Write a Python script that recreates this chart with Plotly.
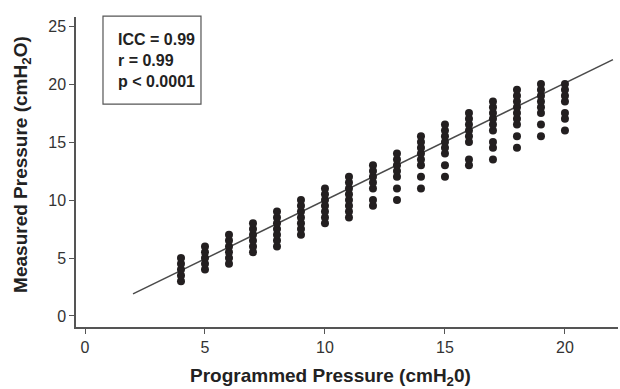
import plotly.graph_objects as go

# ---- data ----
programmed_levels = [4, 5, 6, 7, 8, 9, 10, 11, 12, 13, 14, 15, 16, 17, 18, 19, 20]
measured_by_level = [
    [3, 3.5, 4, 4.5, 5],
    [4, 4.5, 5, 5.5, 6],
    [4.5, 5, 5.5, 6, 6.5, 7],
    [5.5, 6, 6.5, 7, 7.5, 8],
    [6, 6.5, 7, 7.5, 8, 8.5, 9],
    [7, 7.5, 8, 8.5, 9, 9.5, 10],
    [8, 8.5, 9, 9.5, 10, 10.5, 11],
    [8.5, 9, 9.5, 10, 10.5, 11, 11.5, 12],
    [9.5, 10, 11, 11.5, 12, 12.5, 13],
    [10, 11, 12, 12.5, 13, 13.5, 14],
    [11, 12, 13, 13.5, 14, 14.5, 15, 15.5],
    [12, 13, 14, 14.5, 15, 15.5, 16, 16.5],
    [13, 13.5, 15, 15.5, 16, 16.5, 17, 17.5],
    [13.5, 14.5, 15, 16, 16.5, 17, 17.5, 18, 18.5],
    [14.5, 15.5, 16.5, 17, 17.5, 18, 18.5, 19, 19.5],
    [15.5, 16.5, 17.5, 18, 18.5, 19, 19.5, 20],
    [16, 17, 17.5, 18.5, 19, 19.5, 20],
]
fit_slope = 1.01
fit_intercept = -0.12
fit_x_range = [2, 22]
x_ticks = [0, 5, 10, 15, 20]
y_ticks = [0, 5, 10, 15, 20, 25]
stats_lines = ["ICC = 0.99", "r = 0.99", "p < 0.0001"]

# flatten
xs, ys = [], []
for lvl, vals in zip(programmed_levels, measured_by_level):
    for v in vals:
        xs.append(lvl)
        ys.append(v)

fit_y = [fit_slope * x + fit_intercept for x in fit_x_range]

FONT = "Liberation Sans, Arial, sans-serif"
AXIS_COLOR = "#555555"

fig = go.Figure()
fig.add_trace(go.Scatter(
    x=fit_x_range, y=fit_y, mode="lines",
    line=dict(color="#4a4a4a", width=1.5),
    hoverinfo="skip", showlegend=False,
))
fig.add_trace(go.Scatter(
    x=xs, y=ys, mode="markers",
    marker=dict(size=8, color="#231f20", line=dict(width=0)),
    showlegend=False,
))

fig.update_layout(
    width=620, height=389,
    margin=dict(l=76, r=2, t=17, b=62),
    paper_bgcolor="white", plot_bgcolor="white",
    font=dict(family=FONT, size=16, color="#333333"),
    xaxis=dict(
        range=[-0.375, 22.21], tickvals=x_ticks, ticks="outside", ticklen=5,
        tickwidth=1.2, tickcolor=AXIS_COLOR, showline=True, linecolor=AXIS_COLOR,
        linewidth=1.5, showgrid=False, zeroline=False,
        tickfont=dict(family=FONT, size=16, color="#333333"),
    ),
    yaxis=dict(
        range=[-0.95, 25.78], tickvals=y_ticks, ticks="outside", ticklen=5,
        tickwidth=1.2, tickcolor=AXIS_COLOR, showline=True, linecolor=AXIS_COLOR,
        linewidth=1.5, showgrid=False, zeroline=False,
        tickfont=dict(family=FONT, size=16, color="#333333"),
    ),
    shapes=[dict(
        type="rect", xref="paper", yref="paper",
        x0=0.0498, x1=0.2306, y0=0.719, y1=1.003,
        line=dict(color=AXIS_COLOR, width=1.2), fillcolor="rgba(0,0,0,0)",
    )],
    annotations=[
        dict(
            text="<b>" + "<br>".join(stats_lines) + "</b>",
            xref="paper", yref="paper", x=0.0738, y=0.861,
            xanchor="left", yanchor="middle", align="left", showarrow=False,
            font=dict(family=FONT, size=16, color="#222222"),
        ),
        dict(
            text="<b>Programmed Pressure (cmH<sub>2</sub>0)</b>",
            xref="paper", yref="paper", x=0.469, y=-0.161,
            xanchor="center", yanchor="middle", showarrow=False,
            font=dict(family=FONT, size=19, color="#222222"),
        ),
        dict(
            text="<b>Measured Pressure (cmH<sub>2</sub>O)</b>",
            xref="paper", yref="paper", x=-0.0996, y=0.523,
            xanchor="center", yanchor="middle", showarrow=False, textangle=-90,
            font=dict(family=FONT, size=19, color="#222222"),
        ),
    ],
)

fig.write_html(
    "out.html",
    config={"displayModeBar": False},
    post_script="document.body.style.margin='0';document.body.style.overflow='hidden';",
)
